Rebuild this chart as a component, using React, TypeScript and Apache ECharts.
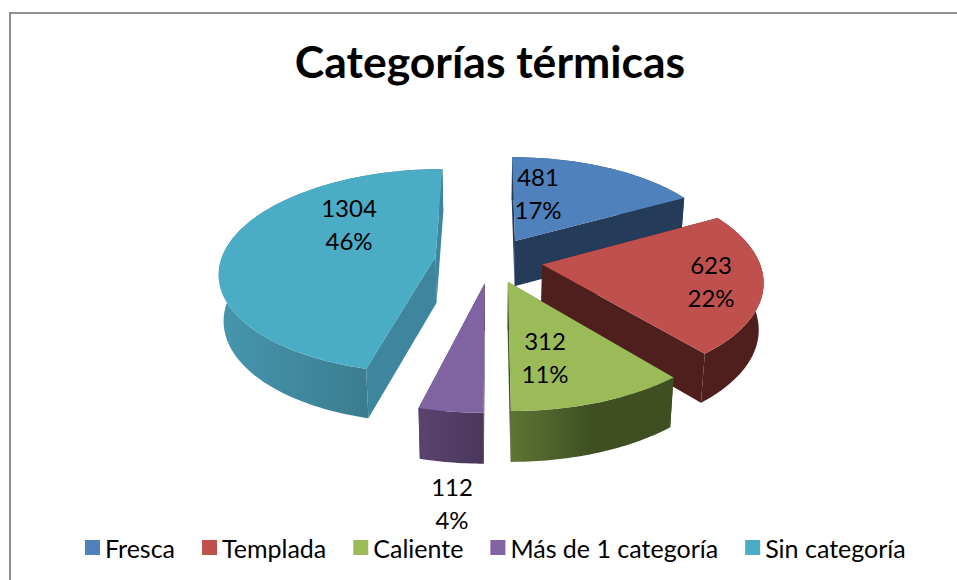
import React, { useEffect, useRef } from "react";
import * as echarts from "echarts";

const titleText = "Categorías térmicas";
const categories = ["Fresca", "Templada", "Caliente", "Más de 1 categoría", "Sin categoría"];
const values = [481, 623, 312, 112, 1304];
const percentLabels = ["17%", "22%", "11%", "4%", "46%"];
const topColors = ["#4F81BD", "#C0504D", "#9BBB59", "#8064A2", "#4BACC6"];
const cutColors = ["#243B5A", "#4F1F1E", "#3F4F22", "#4F3B60", "#3D869D"];
const rimStops: string[][] = [
  ["#243B5A", "#243B5A"],
  ["#4F1F1E", "#4F1F1E"],
  ["#5E7534", "#3F4F22"],
  ["#5A4370", "#4A375A"],
  ["#4696AE", "#35707F"],
];
const rimStopEnds = [1, 1, 0.5, 1, 1];
// paint order, back to front
const paintOrder = [0, 4, 1, 3, 2];
const labelCenters = [[538, 193], [711, 281], [545, 357], [452, 503], [349, 224]];
const explodes = [0.22, 0.235, 0.22, 0.22, 0.255];
const radii = [0.97, 0.985, 1, 1, 0.975];

const total = values.reduce((a, b) => a + b, 0);
const CX = 491, CY = 260, RX = 220, RY = 103.4, K = 0.144, DEPTH = 46, BOTTOM_SHRINK = 0.982;

type P = { x: number; y: number; s: number };
function project(u: number, v: number): P {
  const s = 1 / (1 - K * v);
  return { x: CX + RX * u * s, y: CY + RY * v * s, s };
}
function lower(p: P) {
  return [CX + (p.x - CX) * BOTTOM_SHRINK, p.y + DEPTH * (1 + (p.s - 1) * 0.5)];
}

function renderSlice(index: number, api: any) {
  const value = api.value(0);
  const before = values.slice(0, index).reduce((a, b) => a + b, 0);
  const a0 = (before / total) * Math.PI * 2;
  const a1 = ((before + value) / total) * Math.PI * 2;
  const mid = (a0 + a1) / 2;
  const e = explodes[index];
  const r = radii[index];
  const ou = e * Math.sin(mid);
  const ov = -e * Math.cos(mid);
  const apex = project(ou, ov);
  const inner = project(ou + 0.5 * r * Math.sin(mid), ov - 0.5 * r * Math.cos(mid));
  const steps = Math.max(8, Math.ceil(((a1 - a0) * 180) / Math.PI));
  const rim: P[] = [];
  for (let i = 0; i <= steps; i++) {
    const t = a0 + ((a1 - a0) * i) / steps;
    rim.push(project(ou + r * Math.sin(t), ov - r * Math.cos(t)));
  }
  const xy = (p: { x: number; y: number }) => [p.x, p.y];
  const topPts = [xy(apex), ...rim.map(xy)];
  const rimPts = [...rim.map(xy), ...rim.slice().reverse().map(lower)];
  const cut = (p: P) => [xy(apex), xy(p), lower(p), lower(apex)];
  // A cut face shows only when the top face lies above its edge on screen.
  const faceShows = (p: P) => {
    const dx = p.x - apex.x;
    if (Math.abs(dx) < 1e-6) return false;
    const yOnEdge = apex.y + ((inner.x - apex.x) / dx) * (p.y - apex.y);
    return inner.y < yOnEdge;
  };
  const poly = (points: number[][], fill: any) => ({
    type: "polygon",
    shape: { points },
    style: { fill, stroke: null },
    silent: true,
  });
  const rimFill = new echarts.graphic.LinearGradient(0, 0, 1, 0, [
    { offset: 0, color: rimStops[index][0] },
    { offset: rimStopEnds[index], color: rimStops[index][1] },
    { offset: 1, color: rimStops[index][1] },
  ]);
  const edges = [rim[0], rim[rim.length - 1]];
  const hidden = edges.filter((p) => !faceShows(p));
  const shown = edges.filter((p) => faceShows(p));
  return {
    type: "group",
    children: [
      ...hidden.map((p) => poly(cut(p), cutColors[index])),
      poly(rimPts, rimFill),
      ...shown.map((p) => poly(cut(p), cutColors[index])),
      poly(topPts, topColors[index]),
      {
        type: "text",
        x: labelCenters[index][0],
        y: labelCenters[index][1],
        z2: 10,
        silent: true,
        style: {
          text: `${value}\n${percentLabels[index]}`,
          fill: "#000",
          font: "24px Lato",
          lineHeight: 33,
          align: "center",
          verticalAlign: "middle",
        },
      },
    ],
  };
}

export default function App() {
  const ref = useRef<HTMLDivElement>(null);
  useEffect(() => {
    document.body.style.margin = "0";
    const chart = echarts.init(ref.current!, undefined, { renderer: "svg" });
    chart.setOption({
      animation: false,
      backgroundColor: "#fff",
      title: {
        text: titleText,
        left: 485,
        top: 33,
        textAlign: "center",
        textStyle: { fontFamily: "Lato", fontWeight: "bold", fontSize: 44.5, color: "#000" },
      },
      legend: {
        data: categories,
        left: 85,
        top: 535,
        padding: 0,
        icon: "rect",
        itemWidth: 15,
        itemHeight: 15,
        itemGap: 27,
        selectedMode: false,
        textStyle: { fontFamily: "Lato", fontSize: 25, color: "#000" },
      },
      graphic: [
        {
          type: "polyline",
          shape: { points: [[10, 580], [10, 13], [957, 13]] },
          style: { stroke: "#8f8f8f", lineWidth: 2, fill: null },
          silent: true,
        },
      ],
      series: categories.map((name, i) => ({
        type: "custom",
        name,
        coordinateSystem: "none",
        z: 2 + paintOrder.indexOf(i),
        itemStyle: { color: topColors[i] },
        data: [[values[i]]],
        renderItem: (_p: any, api: any) => renderSlice(i, api),
      })),
    });
    return () => chart.dispose();
  }, []);
  return <div ref={ref} style={{ position: "fixed", left: 0, top: 0, width: 957, height: 580 }} />;
}
